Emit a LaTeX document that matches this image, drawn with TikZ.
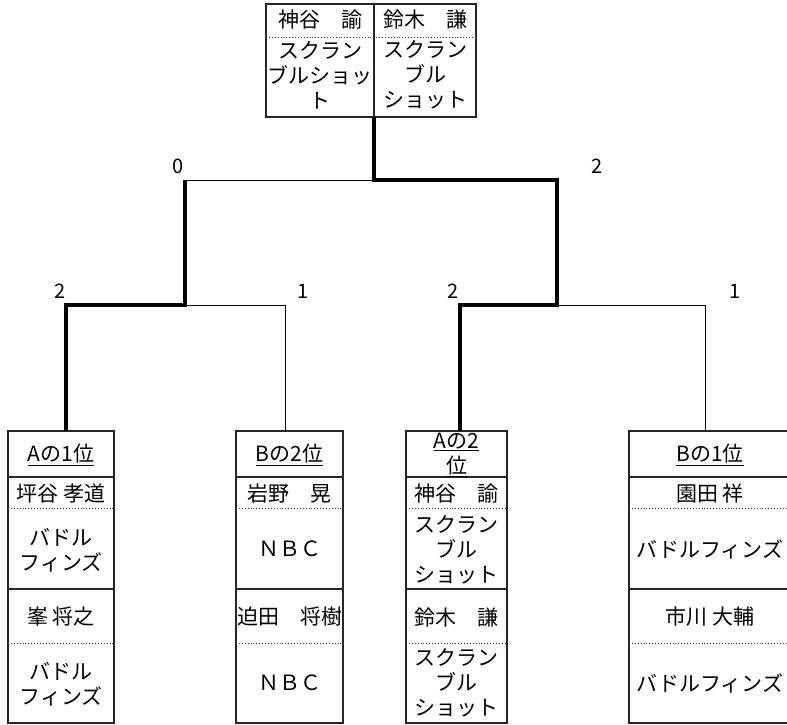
\documentclass[tikz,border=0pt]{standalone}
\usepackage{fontspec}
\setmainfont{Noto Sans CJK JP}
\begin{document}
\begin{tikzpicture}[x=1pt,y=-1pt,
  box/.style={draw=black!85,line width=1.2pt,inner sep=0pt,outer sep=0pt,anchor=north west},
  thinln/.style={line width=1pt},
  thickln/.style={line width=3.5pt},
  dotln/.style={dotted,line width=0.9pt,black!75},
  sepln/.style={line width=1.2pt,black!85},
  txt/.style={font=\fontsize{21}{25}\selectfont,align=center,inner sep=0pt},
  score/.style={font=\fontsize{20}{22}\selectfont,inner sep=0pt}]
\useasboundingbox (0,0) rectangle (787,724);
\clip (0,0) rectangle (787,724);

% top box
\node[box,minimum width=108pt,minimum height=113pt] (topL) at (266,4) {};
\node[box,minimum width=102pt,minimum height=113pt] (topR) at (374,4) {};
\draw[dotln] (topL.north west |- 0,37) -- (topR.north east |- 0,37);
\node[txt] (tLn) at (320,20) {神谷　諭};
\node[txt] (tLt) at (320,75) {スクラン\\ブルショッ\\ト};
\node[txt] (tRn) at (425,20) {鈴木　謙};
\node[txt] (tRt) at (425,75) {スクラン\\ブル\\ショット};

% bottom boxes
\node[box,minimum width=106pt,minimum height=292pt] (b1) at (8,431) {};
\node[box,minimum width=107pt,minimum height=292pt] (b2) at (236,431) {};
\node[box,minimum width=101pt,minimum height=292pt] (b3) at (406,431) {};
\node[box,minimum width=165pt,minimum height=292pt] (b4) at (629,431) {};
\foreach \b in {b1,b2,b3,b4}{
  \draw[sepln] (\b.west |- 0,477) -- (\b.east |- 0,477);
  \draw[dotln] (\b.west |- 0,508) -- (\b.east |- 0,508);
  \draw[sepln] (\b.west |- 0,589) -- (\b.east |- 0,589);
  \draw[dotln] (\b.west |- 0,643) -- (\b.east |- 0,643);
}

% box 1
\node[txt] (b1h) at (61,455) {\underline{Aの1位}};
\node[txt] (b1n1) at (61,494) {坪谷 孝道};
\node[txt] (b1t1) at (61,550) {バドル\\フィンズ};
\node[txt] (b1n2) at (61,617) {峯 将之};
\node[txt] (b1t2) at (61,684) {バドル\\フィンズ};
% box 2
\node[txt] (b2h) at (289.5,455) {\underline{Bの2位}};
\node[txt] (b2n1) at (289.5,494) {岩野　晃};
\node[txt] (b2t1) at (289.5,549) {ＮＢＣ};
\node[txt] (b2n2) at (289.5,617) {迫田　将樹};
\node[txt] (b2t2) at (289.5,683) {ＮＢＣ};
% box 3
\node[txt] (b3h) at (456.5,455) {\underline{Aの2}\\\underline{位}};
\node[txt] (b3n1) at (456.5,494) {神谷　諭};
\node[txt] (b3t1) at (456.5,550) {スクラン\\ブル\\ショット};
\node[txt] (b3n2) at (456.5,618) {鈴木　謙};
\node[txt] (b3t2) at (456.5,683) {スクラン\\ブル\\ショット};
% box 4
\node[txt] (b4h) at (710,455) {\underline{Bの1位}};
\node[txt] (b4n1) at (710,494) {園田 祥};
\node[txt] (b4t1) at (710,549) {バドルフィンズ};
\node[txt] (b4n2) at (710,617) {市川 大輔};
\node[txt] (b4t2) at (710,683) {バドルフィンズ};

% bracket coordinates
\coordinate (r) at (374,180);
\coordinate (sl) at (185,180);
\coordinate (sr) at (557,180);
\coordinate (ql) at (185,305);
\coordinate (qr) at (557,305);
\coordinate (q1) at (66,305);
\coordinate (q2) at (285,305);
\coordinate (q3) at (460,305);
\coordinate (q4) at (705,305);

\draw[thinln] (r) -- (sl);
\draw[thinln] (ql) -- (q2) -- (b2.north -| q2);
\draw[thinln] (qr) -- (q4) -- (b4.north -| q4);
\draw[thickln,line join=miter] (topL.south east) -- (r) -- (sr) -- (qr) -- (q3) -- (b3.north -| q3);
\draw[thickln,line join=miter] (sl) -- (ql) -- (q1) -- (b1.north -| q1);

% scores
\node[score] (s0) at (178,166) {0};
\node[score] (s2) at (597,166) {2};
\node[score] (s3) at (60,291) {2};
\node[score] (s4) at (303,291) {1};
\node[score] (s5) at (453,291) {2};
\node[score] (s6) at (735,291) {1};
\end{tikzpicture}
\end{document}
